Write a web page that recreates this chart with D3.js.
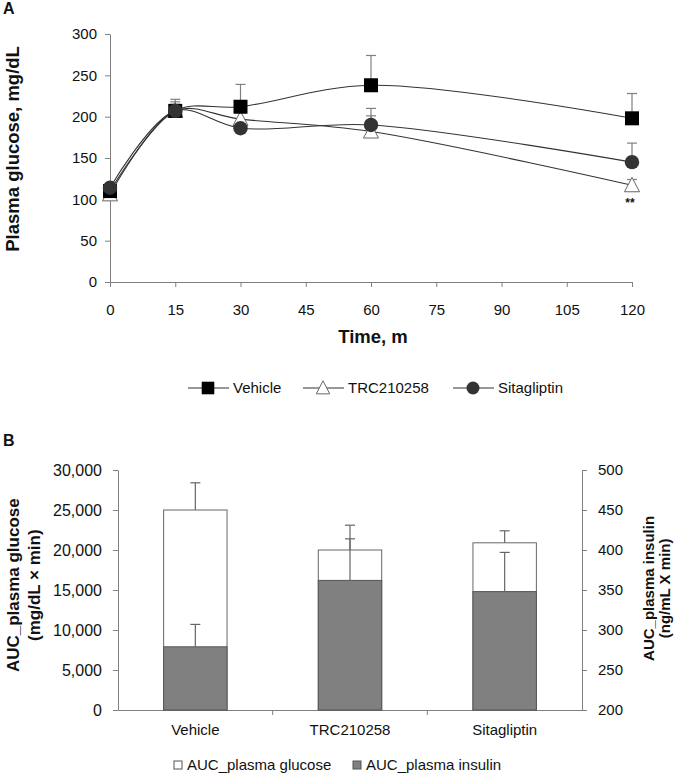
<!DOCTYPE html>
<html><head><meta charset="utf-8">
<script src="https://cdn.jsdelivr.net/npm/d3@7"></script>
<style>
body{margin:0;background:#fff;}
svg text{font-family:"Liberation Sans",Arial,sans-serif;fill:#111;}
</style></head>
<body><svg id="c" width="681" height="779"></svg>
<script>
// ---- Panel A data ----
const times = [0, 15, 30, 60, 120];
const vehicleMean = [110, 207, 212, 238, 198];
const vehicleErr  = [0, 14, 27, 36, 30];
const trcMean = [106, 207, 197, 182, 117];
const trcErr  = [0, 8, 0, 19, 7];
const sitaMean = [114, 207, 186, 190, 145];
const sitaErr  = [0, 11, 0, 20, 23];
const xTicksA = [0, 15, 30, 45, 60, 75, 90, 105, 120];
const yTicksA = [0, 50, 100, 150, 200, 250, 300];

// ---- Panel B data ----
const groups = ["Vehicle", "TRC210258", "Sitagliptin"];
const aucGlucose = [25000, 20000, 20900];
const aucGlucoseErr = [3400, 3100, 1500];
const aucInsulin = [279, 362, 348];
const aucInsulinErr = [28, 52, 49];
const yTicksBL = [0, 5000, 10000, 15000, 20000, 25000, 30000];
const yTicksBR = [200, 250, 300, 350, 400, 450, 500];

const svg = d3.select("#c");
const axisCol = "#808080";
const lineCol = "#333";
const FS = 15;

function styleAxis(g){
  g.selectAll(".domain").attr("stroke", axisCol);
  g.selectAll(".tick line").attr("stroke", axisCol);
  g.selectAll(".tick text").attr("font-size", FS).attr("fill","#111");
}

// ================= Panel A =================
const xA = d3.scaleLinear().domain([0,120]).range([110,632]);
const yA = d3.scaleLinear().domain([0,300]).range([282,34]);

svg.append("text").text("A").attr("x",3).attr("y",14).attr("font-size",16).attr("font-weight","bold");

svg.append("g").attr("transform",`translate(0,${yA(0)})`)
  .call(d3.axisBottom(xA).tickValues(xTicksA).tickSize(5).tickSizeOuter(0).tickPadding(17))
  .call(styleAxis);
svg.append("g").attr("transform",`translate(${xA(0)},0)`)
  .call(d3.axisLeft(yA).tickValues(yTicksA).tickSize(5).tickSizeOuter(0).tickPadding(8))
  .call(styleAxis);

svg.append("text").text("Time, m").attr("x",(xA(0)+xA(120))/2+2).attr("y",343)
  .attr("text-anchor","middle").attr("font-size",18.5).attr("font-weight","bold");
svg.append("text").text("Plasma glucose, mg/dL")
  .attr("transform",`translate(19,${yA(161)}) rotate(-90)`)
  .attr("text-anchor","middle").attr("font-size",18.5).attr("font-weight","bold");

const seriesA = [
  {name:"TRC210258", mean:trcMean, err:trcErr, shape:"tri"},
  {name:"Vehicle", mean:vehicleMean, err:vehicleErr, shape:"sq"},
  {name:"Sitagliptin", mean:sitaMean, err:sitaErr, shape:"circ"}
];
const line = d3.line().x((d,i)=>xA(times[i])).y(d=>yA(d)).curve(d3.curveCatmullRom.alpha(0.5));

// error bars
seriesA.forEach(s=>{
  const g = svg.append("g").attr("stroke",axisCol).attr("stroke-width",1.2);
  s.mean.forEach((m,i)=>{
    if(!s.err[i]) return;
    const x = xA(times[i]), y0 = yA(m), y1 = yA(m+s.err[i]);
    g.append("line").attr("x1",x).attr("x2",x).attr("y1",y0).attr("y2",y1);
    g.append("line").attr("x1",x-5).attr("x2",x+5).attr("y1",y1).attr("y2",y1);
  });
});
// lines
seriesA.forEach(s=>{
  svg.append("path").datum(s.mean).attr("d",line).attr("fill","none")
    .attr("stroke",lineCol).attr("stroke-width",1.1);
});
function drawMarker(g, shape, x, y, k){
  k = k || 1;
  if(shape==="sq"){
    g.append("rect").attr("x",x-7*k).attr("y",y-7*k).attr("width",14*k).attr("height",14*k)
      .attr("fill","#000");
  } else if(shape==="circ"){
    g.append("circle").attr("cx",x).attr("cy",y).attr("r",7.2*k).attr("fill","#333");
  } else {
    g.append("path").attr("d",`M${x},${y-8*k}L${x+7.5*k},${y+6.5*k}L${x-7.5*k},${y+6.5*k}Z`)
      .attr("fill","#fff").attr("stroke","#666").attr("stroke-width",1);
  }
}
seriesA.forEach(s=>{
  const g = svg.append("g");
  s.mean.forEach((m,i)=>drawMarker(g, s.shape, xA(times[i]), yA(m)));
});
svg.append("text").text("**").attr("x",xA(120)-2).attr("y",yA(trcMean[4])+22)
  .attr("text-anchor","middle").attr("font-size",12).attr("font-weight","bold");

// legend A
const legA = [
  {name:"Vehicle", shape:"sq", x:208},
  {name:"TRC210258", shape:"tri", x:323},
  {name:"Sitagliptin", shape:"circ", x:473}
];
legA.forEach(l=>{
  const g = svg.append("g");
  g.append("line").attr("x1",l.x-20).attr("x2",l.x+21).attr("y1",388).attr("y2",388)
    .attr("stroke",lineCol).attr("stroke-width",1.1);
  drawMarker(g, l.shape, l.x, 388, 0.9);
  g.append("text").text(l.name).attr("x",l.x+25).attr("y",393).attr("font-size",FS);
});

// ================= Panel B =================
svg.append("text").text("B").attr("x",3).attr("y",446).attr("font-size",16).attr("font-weight","bold");

const xB = d3.scaleBand().domain(groups).range([118,582]);
const yBL = d3.scaleLinear().domain([0,30000]).range([710,470]);
const yBR = d3.scaleLinear().domain([200,500]).range([710,470]);
const barW = xB.bandwidth()*0.41;

svg.append("g").attr("transform",`translate(${xB.range()[0]},0)`)
  .call(d3.axisLeft(yBL).tickValues(yTicksBL).tickFormat(d3.format(",")).tickSize(5).tickSizeOuter(0).tickPadding(11))
  .call(styleAxis)
  .call(g=>g.selectAll(".tick text").attr("font-size",16));
svg.append("g").attr("transform",`translate(${xB.range()[1]},0)`)
  .call(d3.axisRight(yBR).tickValues(yTicksBR).tickSize(5).tickSizeOuter(0).tickPadding(11))
  .call(styleAxis);
const gx = svg.append("g").attr("transform",`translate(0,${yBL(0)})`)
  .call(d3.axisBottom(xB).tickSize(0).tickSizeOuter(0).tickPadding(14))
  .call(styleAxis);
groups.slice(1).forEach(gname=>{
  const x = xB(gname);
  gx.append("line").attr("x1",x).attr("x2",x).attr("y1",0).attr("y2",5).attr("stroke",axisCol);
});

svg.append("text").attr("transform",`translate(19,${yBL(15600)}) rotate(-90)`)
  .attr("text-anchor","middle").attr("font-size",17).attr("font-weight","bold")
  .call(t=>{
    t.append("tspan").attr("x",0).attr("dy",0).text("AUC_plasma glucose");
    t.append("tspan").attr("x",0).attr("dy",21).text("(mg/dL × min)");
  });
svg.append("text").attr("transform",`translate(654,${yBR(352)}) rotate(-90)`)
  .attr("text-anchor","middle").attr("font-size",15).attr("font-weight","bold")
  .call(t=>{
    t.append("tspan").attr("x",0).attr("dy",0).text("AUC_plasma insulin");
    t.append("tspan").attr("x",0).attr("dy",16).text("(ng/mL X min)");
  });

groups.forEach((gname,i)=>{
  const cx = xB(gname)+xB.bandwidth()/2;
  svg.append("rect").attr("x",cx-barW/2).attr("width",barW)
    .attr("y",yBL(aucGlucose[i])).attr("height",yBL(0)-yBL(aucGlucose[i]))
    .attr("fill","#fff").attr("stroke","#666").attr("stroke-width",1);
  svg.append("rect").attr("x",cx-barW/2).attr("width",barW)
    .attr("y",yBR(aucInsulin[i])).attr("height",yBR(200)-yBR(aucInsulin[i]))
    .attr("fill","#808080").attr("stroke","#555").attr("stroke-width",1);
});
groups.forEach((gname,i)=>{
  const cx = xB(gname)+xB.bandwidth()/2;
  const g = svg.append("g").attr("stroke","#666").attr("stroke-width",1.2);
  const gy0 = yBL(aucGlucose[i]), gy1 = yBL(aucGlucose[i]+aucGlucoseErr[i]);
  g.append("line").attr("x1",cx).attr("x2",cx).attr("y1",gy0).attr("y2",gy1);
  g.append("line").attr("x1",cx-5).attr("x2",cx+5).attr("y1",gy1).attr("y2",gy1);
  const iy0 = yBR(aucInsulin[i]), iy1 = yBR(aucInsulin[i]+aucInsulinErr[i]);
  g.append("line").attr("x1",cx).attr("x2",cx).attr("y1",iy0).attr("y2",iy1);
  g.append("line").attr("x1",cx-5).attr("x2",cx+5).attr("y1",iy1).attr("y2",iy1);
});

// legend B
const legB = [
  {name:"AUC_plasma glucose", fill:"#fff", x:174},
  {name:"AUC_plasma insulin", fill:"#808080", x:353}
];
legB.forEach(l=>{
  svg.append("rect").attr("x",l.x).attr("y",761).attr("width",8).attr("height",8)
    .attr("fill",l.fill).attr("stroke","#555");
  svg.append("text").text(l.name).attr("x",l.x+13).attr("y",770).attr("font-size",FS);
});
</script></body></html>
